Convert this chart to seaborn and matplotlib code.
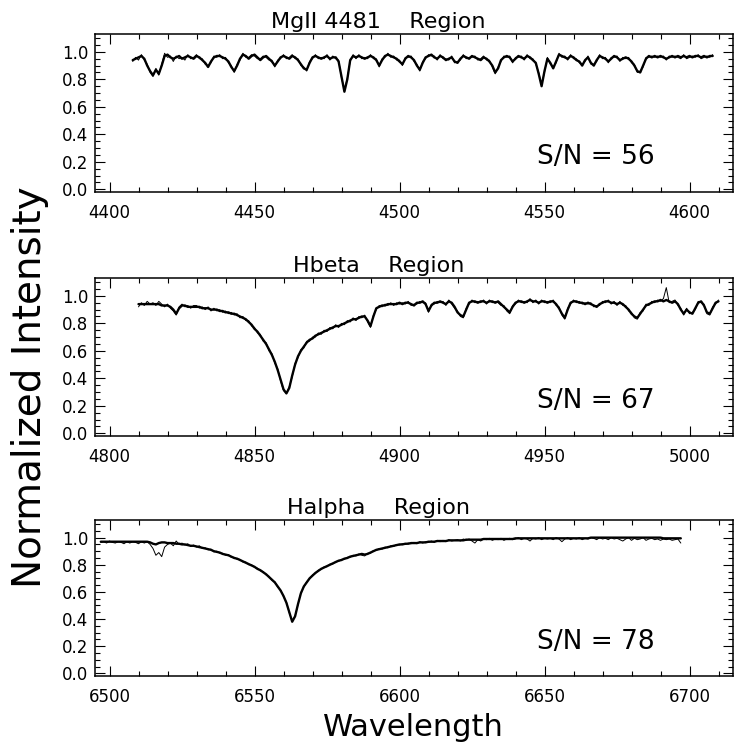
import numpy as np
import pandas as pd
import seaborn as sns
from matplotlib import pyplot as plt
from matplotlib.ticker import MultipleLocator

# Panel titles, S/N labels and axis ranges
titles = ["MgII 4481    Region", "Hbeta    Region", "Halpha    Region"]
snr_labels = ["S/N = 56", "S/N = 67", "S/N = 78"]
x_ranges = [(4395, 4615), (4795, 5015), (6495, 6715)]

# Spectra sampled every 1 A, starting wavelength per panel
start_wl = [4408, 4810, 6497]

mg_model = [
    .94, .95, .96, .97, .95, .90, .86, .83, .87, .84,
    .90, .97, .98, .96, .95, .96, .97, .95, .96, .97,
    .96, .95, .97, .96, .94, .92, .89, .93, .96, .97,
    .97, .96, .95, .93, .89, .86, .90, .95, .98, .97,
    .95, .97, .98, .96, .94, .96, .97, .95, .93, .90,
    .93, .96, .97, .96, .95, .97, .96, .94, .91, .88,
    .87, .92, .96, .97, .96, .95, .96, .97, .95, .96,
    .96, .93, .82, .71, .80, .94, .97, .96, .97, .96,
    .95, .96, .97, .96, .94, .90, .94, .97, .98, .97,
    .96, .95, .93, .91, .95, .97, .96, .94, .90, .87,
    .92, .96, .97, .98, .96, .95, .97, .96, .94, .95,
    .96, .93, .92, .95, .97, .96, .95, .97, .96, .95,
    .94, .96, .95, .93, .90, .85, .88, .94, .96, .97,
    .96, .93, .95, .97, .96, .95, .97, .96, .94, .92,
    .84, .75, .86, .95, .92, .88, .93, .98, .97, .96,
    .95, .97, .96, .94, .93, .90, .94, .96, .92, .90,
    .94, .97, .96, .95, .93, .95, .97, .96, .94, .95,
    .96, .95, .93, .90, .86, .85, .90, .95, .97, .96,
    .97, .96, .97, .96, .95, .96, .97, .96, .97, .96,
    .97, .96, .97, .96, .97, .97, .96, .97, .96, .97, .97,
]
mg_obs = [
    .93, .96, .94, .98, .94, .91, .85, .82, .88, .83,
    .91, .99, .96, .97, .93, .97, .95, .96, .94, .98,
    .95, .96, .98, .95, .95, .91, .90, .92, .97, .96,
    .98, .95, .96, .92, .90, .85, .91, .94, .99, .96,
    .96, .98, .97, .95, .95, .97, .96, .94, .94, .89,
    .94, .95, .98, .95, .96, .98, .95, .95, .90, .89,
    .86, .93, .95, .98, .95, .96, .95, .98, .94, .97,
    .95, .94, .81, .72, .81, .93, .98, .95, .98, .95,
    .96, .95, .98, .95, .95, .89, .95, .96, .99, .96,
    .97, .94, .94, .90, .96, .96, .97, .93, .91, .86,
    .93, .95, .98, .97, .97, .94, .98, .95, .95, .94,
    .97, .92, .93, .94, .98, .95, .96, .96, .97, .94,
    .95, .97, .94, .94, .89, .84, .89, .93, .97, .96,
    .97, .92, .96, .96, .97, .94, .98, .95, .95, .91,
    .85, .76, .85, .96, .91, .89, .92, .99, .96, .97,
    .94, .98, .95, .95, .92, .91, .93, .97, .91, .91,
    .93, .98, .95, .96, .92, .96, .96, .97, .93, .96,
    .95, .96, .92, .91, .85, .86, .89, .96, .96, .97,
    .96, .97, .96, .97, .94, .97, .96, .97, .96, .95,
    .98, .95, .96, .97, .96, .98, .95, .96, .97, .96, .98,
]

hb_model = [
    .94, .94, .94, .94, .94, .94, .94, .94, .93, .93,
    .93, .92, .90, .87, .91, .93, .93, .92, .92, .92,
    .92, .92, .91, .91, .91, .90, .90, .90, .89, .89,
    .88, .88, .87, .87, .86, .85, .84, .83, .81, .79,
    .76, .74, .71, .68, .65, .61, .57, .52, .46, .39,
    .32, .29, .33, .42, .50, .56, .60, .63, .66, .68,
    .69, .71, .72, .73, .74, .75, .76, .77, .78, .78,
    .79, .80, .81, .82, .83, .83, .84, .85, .85, .82,
    .78, .85, .91, .92, .93, .93, .94, .94, .94, .94,
    .95, .94, .95, .95, .94, .93, .95, .95, .96, .94,
    .89, .93, .95, .95, .96, .95, .94, .96, .95, .92,
    .88, .86, .85, .90, .95, .96, .96, .95, .96, .96,
    .95, .96, .96, .95, .96, .94, .92, .90, .88, .92,
    .95, .96, .96, .95, .96, .97, .96, .96, .95, .96,
    .96, .95, .96, .96, .94, .91, .87, .84, .90, .95,
    .96, .96, .95, .95, .94, .95, .94, .93, .92, .94,
    .95, .96, .96, .95, .95, .94, .95, .94, .92, .90,
    .87, .85, .84, .87, .90, .93, .94, .95, .96, .96,
    .97, .96, .97, .96, .95, .96, .94, .90, .87, .90,
    .88, .87, .91, .95, .96, .93, .88, .87, .91, .95, .96,
]
hb_obs = [
    .92, .95, .93, .96, .94, .95, .93, .96, .94, .92,
    .94, .91, .89, .86, .92, .94, .92, .93, .91, .93,
    .93, .91, .92, .90, .92, .89, .91, .89, .90, .88,
    .89, .87, .88, .86, .87, .84, .85, .82, .82, .78,
    .77, .73, .72, .67, .66, .60, .58, .51, .47, .38,
    .31, .29, .34, .41, .51, .55, .61, .62, .67, .67,
    .70, .70, .73, .72, .75, .74, .77, .76, .79, .77,
    .80, .79, .82, .81, .84, .82, .85, .84, .86, .81,
    .77, .86, .90, .93, .92, .94, .93, .95, .93, .95,
    .94, .95, .94, .96, .93, .94, .94, .96, .95, .95,
    .88, .94, .94, .96, .95, .96, .93, .97, .94, .91,
    .89, .85, .84, .91, .94, .97, .95, .96, .95, .97,
    .94, .97, .95, .96, .95, .93, .93, .89, .87, .93,
    .94, .97, .95, .96, .95, .98, .95, .97, .94, .97,
    .95, .96, .95, .97, .93, .92, .86, .83, .91, .94,
    .97, .95, .96, .94, .95, .94, .95, .92, .93, .93,
    .96, .95, .97, .94, .96, .93, .96, .93, .93, .89,
    .88, .84, .83, .88, .89, .94, .93, .96, .95, .97,
    .96, .98, 1.06, .95, .96, .97, .93, .91, .86, .91,
    .87, .88, .90, .96, .95, .94, .87, .86, .92, .94, .97,
]

ha_model = [
    .97, .97, .97, .97, .97, .97, .97, .97, .97, .97,
    .97, .97, .97, .97, .97, .97, .97, .965, .955, .95,
    .96, .965, .965, .96, .96, .96, .955, .955, .95, .95,
    .945, .94, .94, .935, .93, .925, .92, .915, .91, .90,
    .895, .89, .88, .875, .87, .86, .85, .845, .835, .825,
    .815, .805, .795, .785, .77, .76, .745, .73, .71, .69,
    .67, .64, .61, .57, .52, .45, .38, .42, .51, .59,
    .64, .67, .70, .72, .74, .755, .77, .78, .79, .80,
    .81, .82, .83, .835, .845, .85, .86, .865, .87, .875,
    .88, .875, .88, .89, .90, .91, .915, .92, .925, .93,
    .935, .94, .945, .95, .95, .955, .955, .96, .96, .96,
    .965, .965, .965, .97, .97, .97, .975, .975, .975, .975,
    .98, .98, .98, .98, .98, .98, .985, .985, .985, .985,
    .985, .985, .99, .99, .99, .99, .99, .99, .99, .99,
    .99, .99, .99, .995, .995, .995, .995, .995, .995, .995,
    .995, .995, .995, .995, .995, .995, .995, .995, .995, .995,
    .995, .995, .995, .995, .995, .995, .995, .995, .995, 1.0,
    1.0, 1.0, 1.0, 1.0, 1.0, 1.0, 1.0, 1.0, 1.0, 1.0,
    1.0, 1.0, 1.0, 1.0, 1.0, 1.0, 1.0, 1.0, 1.0, 1.0,
    1.0, 1.0, 1.0, 1.0, .995, .995, .995, .995, .995, .995, .995,
]
ha_obs = [
    .965, .97, .96, .975, .965, .96, .97, .965, .955, .97,
    .96, .97, .965, .955, .97, .96, .97, .95, .92, .87,
    .89, .86, .93, .95, .96, .94, .975, .95, .96, .945,
    .955, .935, .945, .93, .94, .92, .925, .91, .915, .895,
    .90, .885, .885, .87, .875, .855, .855, .84, .84, .82,
    .82, .80, .80, .78, .775, .755, .75, .725, .715, .685,
    .675, .635, .615, .565, .525, .445, .385, .425, .505, .595,
    .635, .675, .695, .725, .735, .76, .765, .785, .785, .805,
    .805, .825, .825, .84, .84, .855, .855, .87, .865, .88,
    .87, .865, .885, .885, .905, .905, .92, .915, .93, .925,
    .94, .935, .95, .945, .955, .95, .96, .955, .965, .955,
    .97, .96, .97, .965, .975, .965, .98, .97, .98, .97,
    .985, .975, .98, .985, .975, .99, .98, .99, .975, .96,
    .985, .975, .99, .985, .995, .98, .99, .985, .995, .98,
    .99, .995, .985, .99, 1.0, .985, .995, .99, .975, .995,
    .99, 1.0, .985, .995, .99, .995, .985, 1.0, .99, .97,
    .99, 1.0, .985, .995, .99, 1.0, .985, .995, .99, 1.0,
    .995, .985, 1.0, .99, .995, .985, 1.0, .99, .995, .985,
    .975, .99, 1.0, .98, .995, .985, .99, 1.0, .98, .99,
    .995, .985, .99, .98, .99, .985, .99, .98, .985, .99, .96,
]

models = [mg_model, hb_model, ha_model]
observed = [mg_obs, hb_obs, ha_obs]

sns.set_style("ticks")
plt.rcParams['font.family'] = ['DejaVu Sans']
for key in ["text.color", "axes.labelcolor", "xtick.color", "ytick.color", "axes.edgecolor"]:
    plt.rcParams[key] = "black"

W, H = 741, 751
fig = plt.figure(figsize=(W / 100, H / 100), dpi=100)

# axes boxes in pixels: (top, bottom)
boxes = [(34, 192), (278, 436), (520, 676)]
left, right = 95, 733

for i in range(3):
    top, bottom = boxes[i]
    ax = fig.add_axes([left / W, 1 - bottom / H, (right - left) / W, (bottom - top) / H])
    wl = start_wl[i] + np.arange(len(models[i]))
    df = pd.DataFrame({"wl": wl, "obs": observed[i], "model": models[i]})
    sns.lineplot(data=df, x="wl", y="obs", ax=ax, color="black", lw=0.7)
    sns.lineplot(data=df, x="wl", y="model", ax=ax, color="black", lw=1.7)

    ax.set_xlim(*x_ranges[i])
    ax.set_ylim(-0.02, 1.13)
    ax.xaxis.set_major_locator(MultipleLocator(50))
    ax.xaxis.set_minor_locator(MultipleLocator(10))
    ax.yaxis.set_major_locator(MultipleLocator(0.2))
    ax.yaxis.set_minor_locator(MultipleLocator(0.05))
    ax.yaxis.set_major_formatter(plt.FormatStrFormatter("%.1f"))
    ax.tick_params(which="both", direction="in", top=True, right=True, width=0.8, labelsize=12)
    ax.tick_params(which="major", length=7)
    ax.tick_params(which="minor", length=3.5)
    ax.tick_params(axis="x", which="major", pad=9)
    ax.tick_params(axis="y", which="major", pad=5)
    for s in ax.spines.values():
        s.set_linewidth(1.1)
    ax.set_xlabel("")
    ax.set_ylabel("")
    ax.set_title(titles[i], fontsize=16, pad=4, x=0.444)
    ax.text(0.785, 0.22, snr_labels[i], transform=ax.transAxes, fontsize=19,
            ha="center", va="center")

fig.text(30 / W, 1 - 387 / H, "Normalized Intensity", rotation=90,
         fontsize=28, ha="center", va="center")
fig.text(413 / W, 1 - 727 / H, "Wavelength", fontsize=22, ha="center", va="center")

fig.savefig("out.png", dpi=100)
